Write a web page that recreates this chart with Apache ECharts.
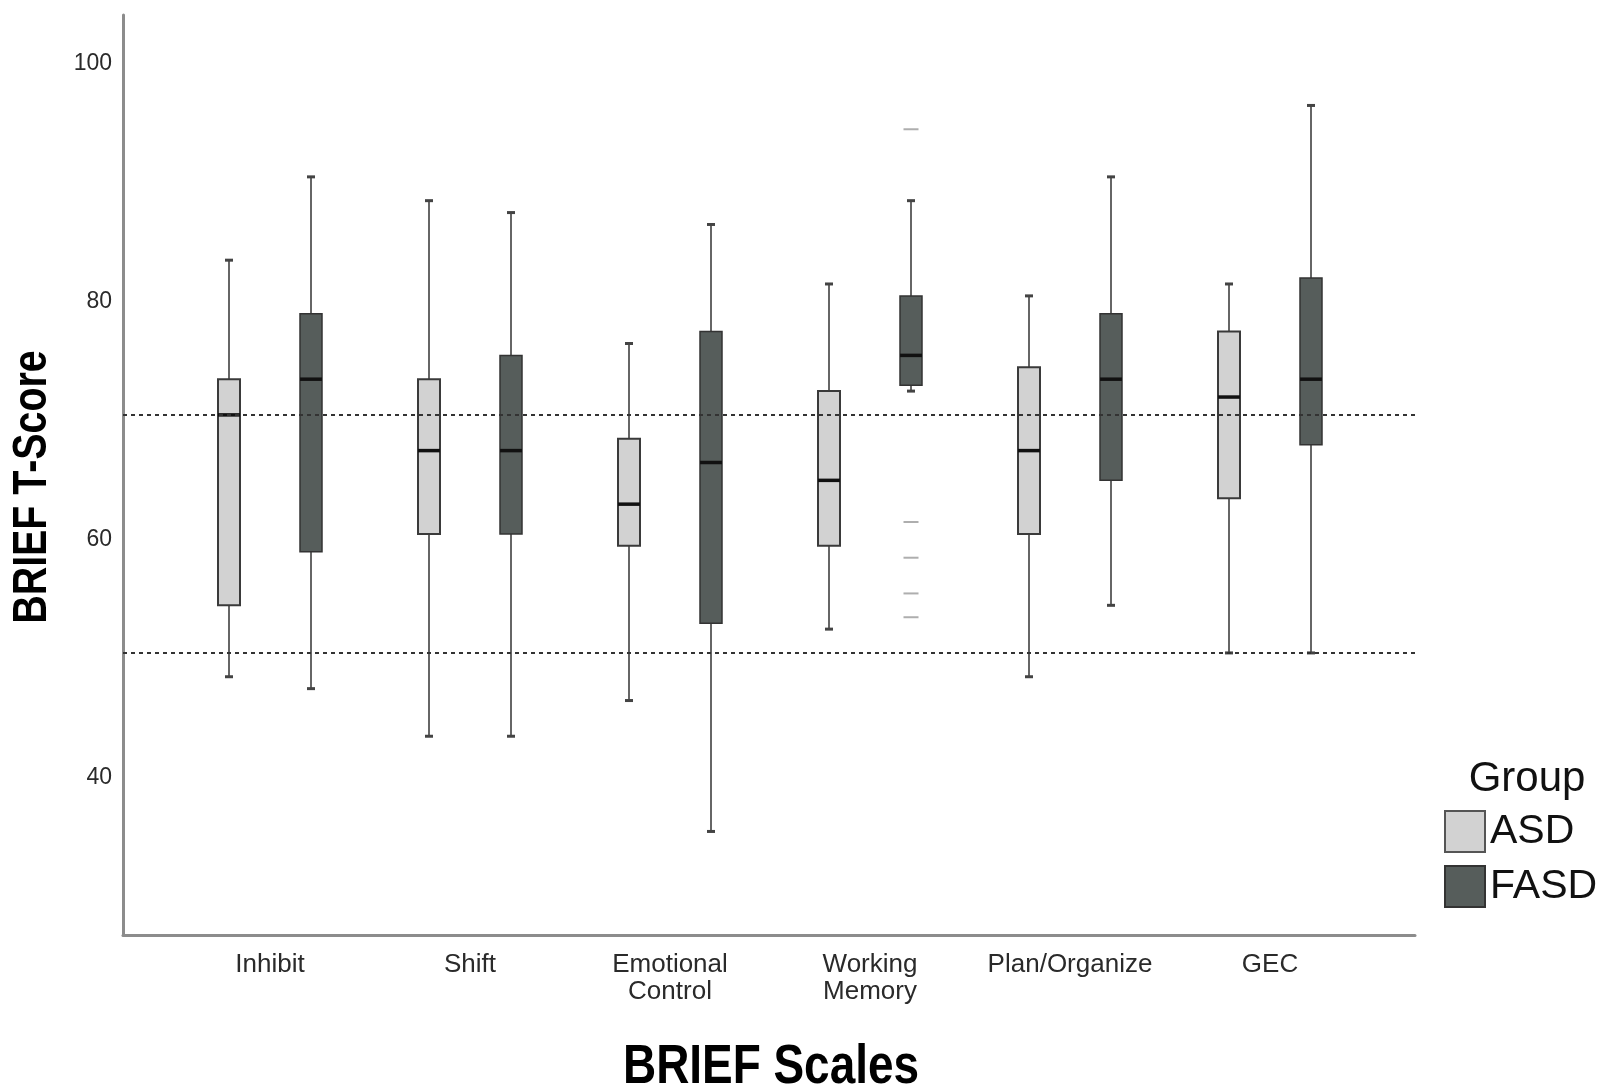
<!DOCTYPE html>
<html>
<head>
<meta charset="utf-8">
<title>BRIEF T-Scores by Group</title>
<script src="https://cdn.jsdelivr.net/npm/echarts@6/dist/echarts.min.js"></script>
<style>
  html, body { margin: 0; padding: 0; background: #fff; }
  #chart { width: 1608px; height: 1088px; }
</style>
</head>
<body>
<div id="chart"></div>
<script>
// BRIEF scales on the x axis
const categories = ['Inhibit', 'Shift', 'Emotional\nControl', 'Working\nMemory', 'Plan/Organize', 'GEC'];
// box stats per scale: [min, q1, median, q3, max]
const asdBoxes = [
  [48, 54, 70, 73, 83],
  [43, 60, 67, 73, 88],
  [46, 59, 62.5, 68, 76],
  [52, 59, 64.5, 72, 81],
  [48, 60, 67, 74, 80],
  [50, 63, 71.5, 77, 81]
];
const fasdBoxes = [
  [47, 58.5, 73, 78.5, 90],
  [43, 60, 67, 75, 87],
  [35, 52.5, 66, 77, 86],
  [72, 72.5, 75, 80, 88],
  [54, 64.5, 73, 78.5, 90],
  [50, 67.5, 73, 81.5, 96]
];
// outliers: [scale index, T-score]
const fasdOutliers = [[3, 94], [3, 61], [3, 58], [3, 55], [3, 53]];
const yTicks = [40, 60, 80, 100];
// clinical cut-offs drawn as dotted lines
const refLines = [70, 50];

const SANS = "'Liberation Sans', Arial, sans-serif";

const chart = echarts.init(document.getElementById('chart'));

// draws one box + whiskers, shifted sideways from the scale center
function boxRenderer(offset, fill, stroke, bw) {
  return function (params, api) {
    const cx = api.coord([api.value(0), 0])[0] + offset;
    const y = i => api.coord([0, api.value(i)])[1];
    const yMin = y(1), yQ1 = y(2), yMed = y(3), yQ3 = y(4), yMax = y(5);
    const half = 11;
    const cap = 4;
    return {
      type: 'group',
      children: [
        { type: 'line', shape: { x1: cx, y1: yMax, x2: cx, y2: yMin },
          style: { stroke: '#666', lineWidth: 2 } },
        { type: 'line', shape: { x1: cx - cap, y1: yMax, x2: cx + cap, y2: yMax },
          style: { stroke: '#444', lineWidth: 3 } },
        { type: 'line', shape: { x1: cx - cap, y1: yMin, x2: cx + cap, y2: yMin },
          style: { stroke: '#444', lineWidth: 3 } },
        { type: 'rect', shape: { x: cx - half, y: yQ3, width: half * 2, height: yQ1 - yQ3 },
          style: { fill: fill, stroke: stroke, lineWidth: bw } },
        { type: 'line', shape: { x1: cx - half, y1: yMed, x2: cx + half, y2: yMed },
          style: { stroke: '#111', lineWidth: 3.5 } }
      ]
    };
  };
}

function toItems(boxes) {
  return boxes.map((b, i) => [i].concat(b));
}

chart.setOption({
  backgroundColor: '#fff',
  animation: false,
  grid: { left: 123, right: 193, top: 15, bottom: 153 },
  xAxis: {
    type: 'value',
    min: -0.735,
    max: 5.725,
    minInterval: 1,
    maxInterval: 1,
    axisLine: { show: true, onZero: false, lineStyle: { color: '#8c8c8c', width: 3 } },
    axisTick: { show: false },
    splitLine: { show: false },
    axisLabel: {
      showMinLabel: false,
      showMaxLabel: false,
      margin: 16,
      fontFamily: SANS,
      fontSize: 26,
      lineHeight: 27,
      color: '#2a2a2a',
      formatter: v => (Number.isInteger(v) && categories[v]) ? categories[v] : ''
    }
  },
  yAxis: {
    type: 'value',
    min: 26.3,
    max: 103.6,
    minInterval: 20,
    maxInterval: 20,
    axisLine: { show: true, onZero: false, lineStyle: { color: '#8c8c8c', width: 3 } },
    axisTick: { show: false },
    splitLine: { show: false },
    axisLabel: {
      showMinLabel: false,
      showMaxLabel: false,
      margin: 11,
      verticalAlign: 'top',
      lineHeight: 11,
      fontFamily: SANS,
      fontSize: 23,
      color: '#2a2a2a',
      formatter: v => yTicks.indexOf(v) >= 0 ? String(v) : ''
    }
  },
  legend: {
    orient: 'vertical',
    left: 1444,
    top: 810,
    padding: 0,
    itemWidth: 40,
    itemHeight: 41,
    itemGap: 12,
    icon: 'rect',
    textStyle: { fontFamily: SANS, fontSize: 41, color: '#111' },
    data: [
      { name: 'ASD', itemStyle: { borderColor: '#555', borderWidth: 2 } },
      { name: 'FASD', itemStyle: { borderColor: '#333', borderWidth: 2 } }
    ]
  },
  graphic: [
    { type: 'text', x: 33, y: 487, rotation: Math.PI / 2, scaleX: 0.82,
      style: { text: 'BRIEF T-Score', fontFamily: SANS, fontWeight: 'bold', fontSize: 48,
               fill: '#000', align: 'center', verticalAlign: 'middle' } },
    { type: 'text', x: 771, y: 1068, scaleX: 0.82,
      style: { text: 'BRIEF Scales', fontFamily: SANS, fontWeight: 'bold', fontSize: 56,
               fill: '#000', align: 'center', verticalAlign: 'middle' } },
    { type: 'text', x: 1527, y: 779,
      style: { text: 'Group', fontFamily: SANS, fontSize: 42,
               fill: '#111', align: 'center', verticalAlign: 'middle' } }
  ],
  series: [
    {
      name: 'ASD',
      type: 'custom',
      itemStyle: { color: '#d2d2d2' },
      renderItem: boxRenderer(-41, '#d2d2d2', '#3a3a3a', 2),
      encode: { x: 0, y: [1, 2, 3, 4, 5] },
      data: toItems(asdBoxes),
      markLine: {
        silent: true,
        symbol: 'none',
        label: { show: false },
        lineStyle: { color: '#333', type: [4, 4], width: 2 },
        data: refLines.map(v => ({ yAxis: v }))
      }
    },
    {
      name: 'FASD',
      type: 'custom',
      itemStyle: { color: '#565d5b' },
      renderItem: boxRenderer(41, '#565d5b', '#333', 1.5),
      encode: { x: 0, y: [1, 2, 3, 4, 5] },
      data: toItems(fasdBoxes)
    },
    {
      name: 'FASD outliers',
      type: 'scatter',
      symbol: 'rect',
      symbolSize: [15, 2],
      symbolOffset: [41, 0],
      itemStyle: { color: '#9a9a9a' },
      data: fasdOutliers
    }
  ]
});
</script>
</body>
</html>
